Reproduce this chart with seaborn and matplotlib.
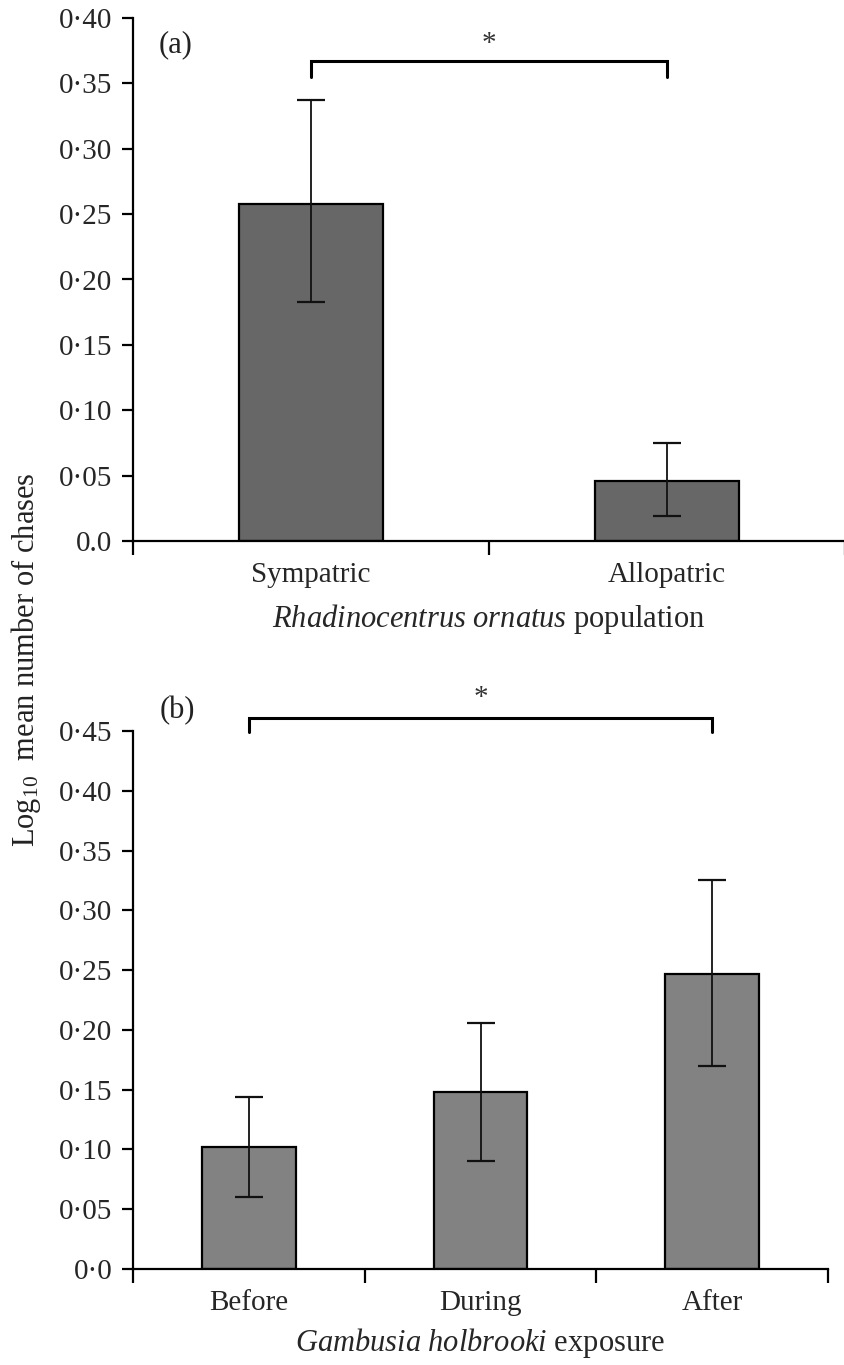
import matplotlib
matplotlib.use("Agg")
import matplotlib.pyplot as plt
import seaborn as sns
import pandas as pd
import numpy as np

# ---- data ----
pop_categories = ["Sympatric", "Allopatric"]
pop_means = [0.258, 0.046]
pop_lower = [0.183, 0.019]
pop_upper = [0.337, 0.075]

exp_categories = ["Before", "During", "After"]
exp_means = [0.102, 0.148, 0.247]
exp_lower = [0.060, 0.090, 0.170]
exp_upper = [0.144, 0.206, 0.325]

a_yticks = [0.0, 0.05, 0.10, 0.15, 0.20, 0.25, 0.30, 0.35, 0.40]
a_yticklabels = ["0.0", "0·05", "0·10", "0·15", "0·20", "0·25", "0·30", "0·35", "0·40"]
b_yticks = [0.0, 0.05, 0.10, 0.15, 0.20, 0.25, 0.30, 0.35, 0.40, 0.45]
b_yticklabels = ["0·0", "0·05", "0·10", "0·15", "0·20", "0·25", "0·30", "0·35", "0·40", "0·45"]

sns.set_theme(style="ticks")
plt.rcParams["font.family"] = ["Liberation Serif", "DejaVu Serif"]
plt.rcParams["mathtext.fontset"] = "custom"
plt.rcParams["mathtext.rm"] = "Liberation Serif"
plt.rcParams["mathtext.it"] = "Liberation Serif:italic"
plt.rcParams["axes.edgecolor"] = "black"
plt.rcParams["text.color"] = "#222222"

FS = 21
W, H = 844, 1365
fig = plt.figure(figsize=(W / 100, H / 100), dpi=100)

ax_a = fig.add_axes([133 / W, 1 - 541 / H, 712 / W, (541 - 18) / H])
ax_b = fig.add_axes([133 / W, 1 - 1269 / H, 695 / W, (1269 - 731) / H])


def draw_panel(ax, cats, means, lo, hi, color, ylim, yticks, yticklabels, xlabel, lpad):
    df = pd.DataFrame({"cat": cats, "val": means})
    sns.barplot(data=df, x="cat", y="val", order=cats, color=color, saturation=1,
                width=0.405, edgecolor="black", linewidth=1.6, ax=ax, errorbar=None)
    x = np.arange(len(cats))
    m = np.array(means)
    yerr = np.vstack([m - np.array(lo), np.array(hi) - m])
    ax.errorbar(x, m, yerr=yerr, fmt="none", ecolor="#111111", elinewidth=1.3,
                capsize=10, capthick=1.6)
    ax.set_xlim(-0.5, len(cats) - 0.5)
    ax.set_ylim(*ylim)
    ax.set_yticks(yticks)
    ax.set_yticklabels(yticklabels, fontsize=FS)
    ax.set_xticks(x)
    ax.set_xticklabels(cats, fontsize=FS)
    ax.set_xticks(np.arange(len(cats) + 1) - 0.5, minor=True)
    ax.tick_params(axis="x", which="major", length=0, pad=15)
    ax.tick_params(axis="x", which="minor", length=10, width=1.6, direction="out", color="black")
    ax.tick_params(axis="y", length=8, width=1.6, direction="out", pad=7, color="black")
    for s in ["top", "right"]:
        ax.spines[s].set_visible(False)
    for s in ["left", "bottom"]:
        ax.spines[s].set_linewidth(1.6)
        ax.spines[s].set_color("black")
    ax.set_xlabel(xlabel, fontsize=FS + 1, labelpad=lpad)
    ax.set_ylabel("")


draw_panel(ax_a, pop_categories, pop_means, pop_lower, pop_upper, "#676767",
           (0, 0.40), a_yticks, a_yticklabels,
           r"$\mathit{Rhadinocentrus\ ornatus}$ population", 10)
draw_panel(ax_b, exp_categories, exp_means, exp_lower, exp_upper, "#828282",
           (0, 0.45), b_yticks, b_yticklabels,
           r"$\mathit{Gambusia\ holbrooki}$ exposure", 7)


def bracket(ax, x0, x1, ytop, ybot, ystar):
    ax.plot([x0, x0, x1, x1], [ybot, ytop, ytop, ybot], color="black", lw=2.2,
            clip_on=False, solid_joinstyle="miter")
    ax.text((x0 + x1) / 2, ystar, "*", ha="center", va="center", fontsize=FS, color="#333333",
            clip_on=False)


bracket(ax_a, 0, 1, 0.367, 0.355, 0.380)
bracket(ax_b, 0, 2, 0.461, 0.449, 0.478)

fig.text(176 / W, 1 - 45 / H, "(a)", fontsize=FS + 1, ha="center", va="center")
fig.text(177 / W, 1 - 711 / H, "(b)", fontsize=FS + 1, ha="center", va="center")

fig.text(26 / W, 1 - 660 / H, r"Log$_{10}$  mean number of chases", rotation=90,
         fontsize=FS + 1, ha="center", va="center")

fig.savefig("out.png", dpi=100)
